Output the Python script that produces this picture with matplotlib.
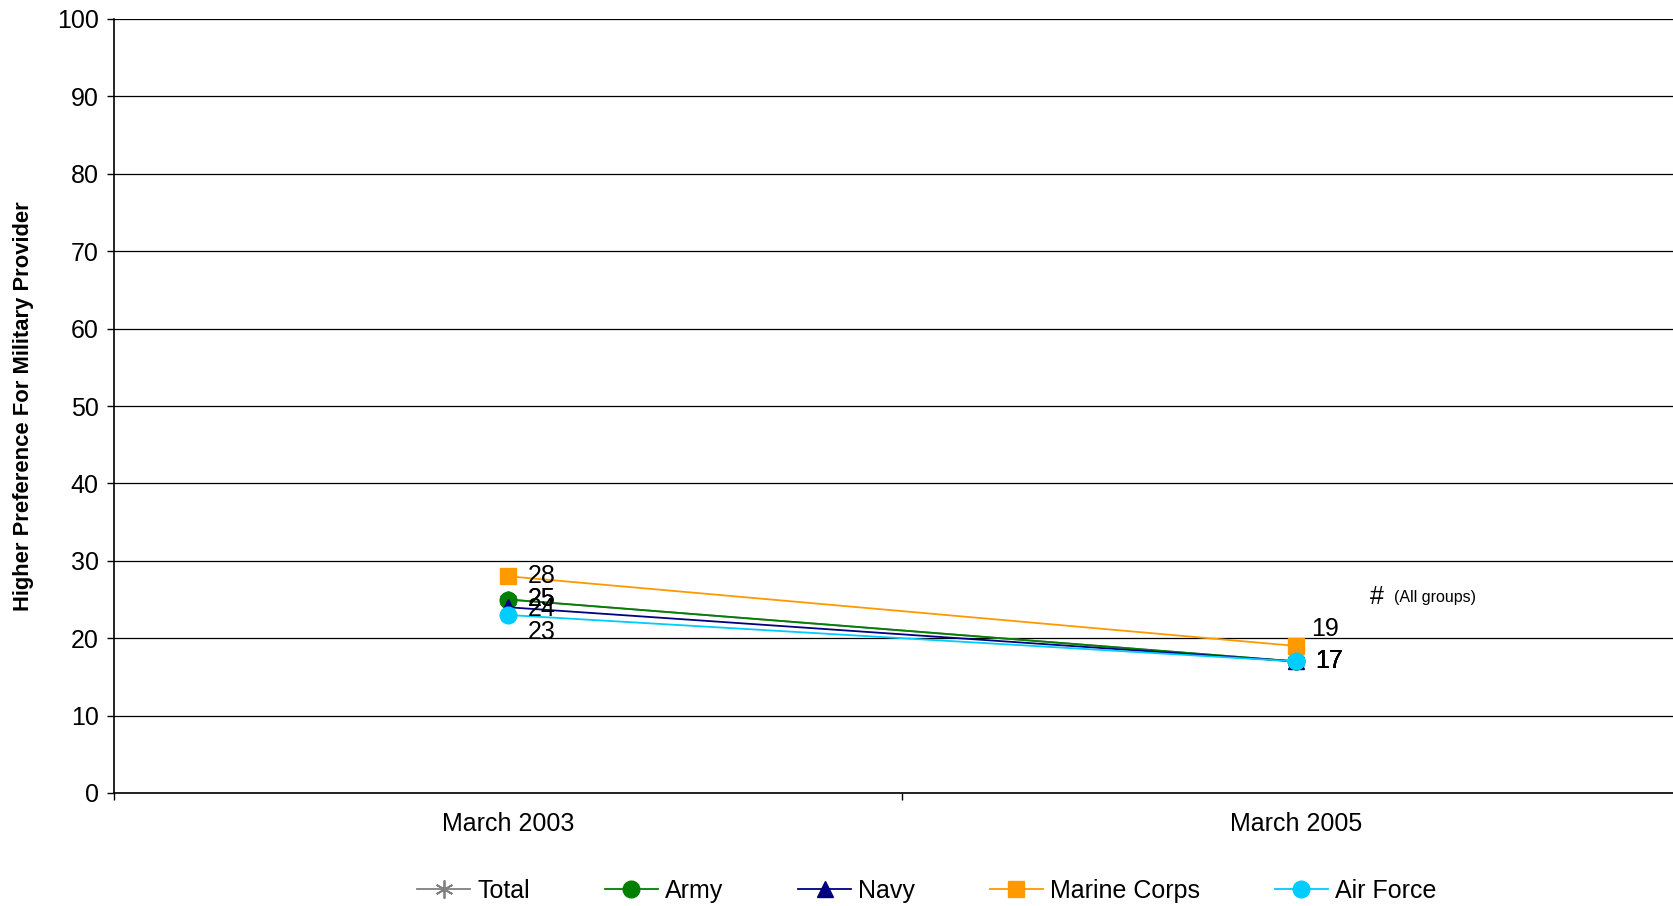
import matplotlib
matplotlib.use("Agg")
import matplotlib.pyplot as plt

categories = ["March 2003", "March 2005"]
series_names = ["Total", "Army", "Navy", "Marine Corps", "Air Force"]
total = [25, 17]
army = [25, 17]
navy = [24, 17]
marine = [28, 19]
air_force = [23, 17]
y_ticks = [0, 10, 20, 30, 40, 50, 60, 70, 80, 90, 100]

plt.rcParams['font.family'] = ['Liberation Sans', 'DejaVu Sans']

fig = plt.figure(figsize=(16.74, 9.06), dpi=100)
ax = fig.add_axes([114/1674, 113/906, 1576/1674, 774/906])

x = list(range(len(categories)))
styles = [
    (total, "#808080", (6, 2, 0), 13),
    (army, "#008000", "o", 12),
    (navy, "#000080", "^", 11),
    (marine, "#FF9900", "s", 11.5),
    (air_force, "#00CCFF", "o", 12),
]
for name, (vals, col, mk, ms) in zip(series_names, styles):
    ax.plot(x, vals, color=col, marker=mk, markersize=ms, linewidth=1.3,
            markeredgecolor=col, markeredgewidth=1.3 if name == "Total" else 1,
            label=name, clip_on=False)

fs = 18
off = 14
# data labels
ax.annotate(str(marine[0]), (x[0], marine[0]), xytext=(off, 0), textcoords="offset points",
            fontsize=fs, va="center", ha="left")
ax.annotate(str(army[0]), (x[0], army[0]), xytext=(off, 0), textcoords="offset points",
            fontsize=fs, va="center", ha="left")
ax.annotate(str(total[0]), (x[0], total[0]), xytext=(off, 0), textcoords="offset points",
            fontsize=fs, va="center", ha="left")
ax.annotate(str(navy[0]), (x[0], navy[0]), xytext=(off, -1), textcoords="offset points",
            fontsize=fs, va="center", ha="left")
ax.annotate(str(air_force[0]), (x[0], air_force[0]), xytext=(off, -12), textcoords="offset points",
            fontsize=fs, va="center", ha="left")
ax.annotate(str(marine[1]), (x[1], marine[1]), xytext=(11, 12), textcoords="offset points",
            fontsize=fs, va="center", ha="left")
for vals in (total, army, navy, air_force):
    ax.annotate(str(vals[1]), (x[1], vals[1]), xytext=(off, 0), textcoords="offset points",
                fontsize=fs, va="center", ha="left")

ax.text(1.094, 25.3, "#", fontsize=fs, va="center", ha="left")
ax.text(1.125, 25.2, "(All groups)", fontsize=11.5, va="center", ha="left")

ax.set_xlim(-0.5, 1.5)
ax.set_ylim(0, 100)
ax.set_yticks(y_ticks)
ax.set_xticks(x)
ax.set_xticklabels(categories, fontsize=fs)
ax.set_xticks([-0.5, 0.5, 1.5], minor=True)
ax.tick_params(axis="x", which="major", length=0, pad=14)
ax.tick_params(axis="x", which="minor", length=5, width=1, direction="out")
ax.tick_params(axis="y", labelsize=fs, length=5, width=1, direction="out", pad=6)
ax.yaxis.grid(True, color="black", linewidth=0.9)
ax.set_axisbelow(True)
for s in ("top", "right"):
    ax.spines[s].set_visible(False)
ax.spines["left"].set_linewidth(1.2)
ax.spines["bottom"].set_linewidth(1.2)

ax.set_ylabel("Higher Preference For Military Provider", fontsize=15.8, fontweight="bold")
ax.yaxis.set_label_coords(-0.051, 0.5)

fig.legend(loc="center", bbox_to_anchor=(927/1674, 15/906), ncol=5, frameon=False,
           fontsize=fs, columnspacing=3.0, handlelength=2.1, handletextpad=0.3)

fig.savefig("out.png", dpi=100)
